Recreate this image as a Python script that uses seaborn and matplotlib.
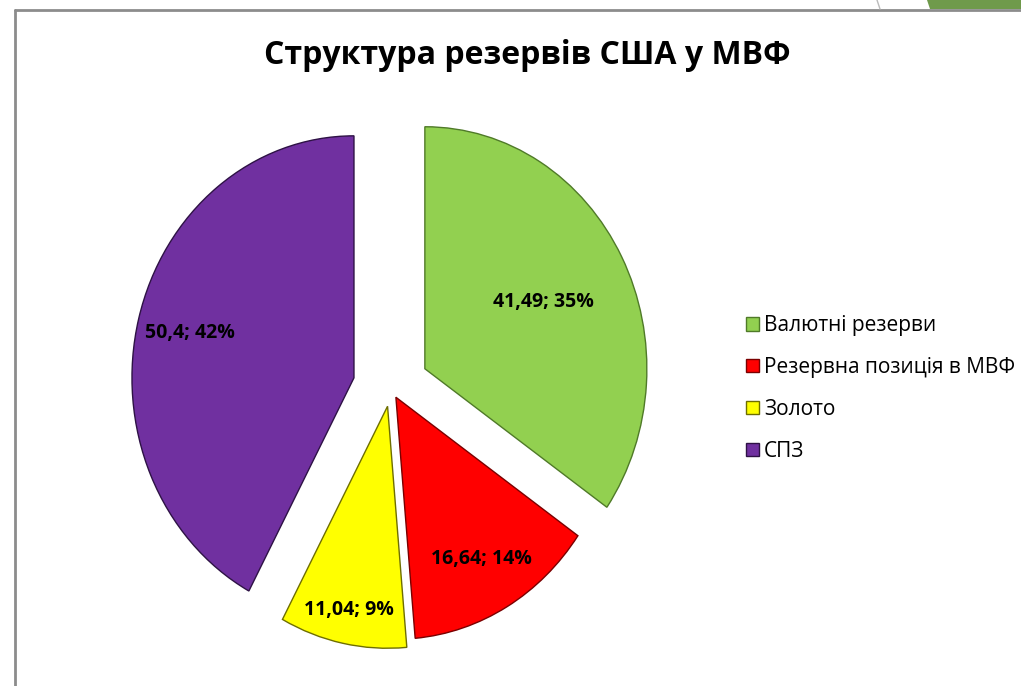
import matplotlib
matplotlib.use("Agg")
import matplotlib.pyplot as plt
import seaborn as sns
import numpy as np
from matplotlib.patches import Polygon
from matplotlib.lines import Line2D

# ---- data ----
categories = ["Валютні резерви", "Резервна позиція в МВФ", "Золото", "СПЗ"]
values = [41.49, 16.64, 11.04, 50.4]
value_labels = ["41,49", "16,64", "11,04", "50,4"]
title = "Структура резервів США у МВФ"

# ---- style ----
colors = ["#92D050", "#FF0000", "#FFFF00", "#7030A0"]
edge_colors = ["#4F7A28", "#7A0000", "#6E6E00", "#2E1245"]
explode = [0.172, 0.044, 0.077, 0.172]
label_dist = [0.6, 0.77, 0.86, 0.76]

sns.set_theme(style="white")
plt.rcParams['font.family'] = ['Open Sans', 'DejaVu Sans']

W, H = 1021, 686
fig = plt.figure(figsize=(W / 100, H / 100), dpi=100)
fig.patch.set_facecolor("white")

ax = fig.add_axes([13.6 / W, (H - 678.4) / H, 754.8 / W, 629.2 / H])
wedges, _ = ax.pie(values, colors=colors, explode=explode, startangle=90,
                   counterclock=False, radius=1,
                   wedgeprops=dict(linewidth=1.0))
for w, ec in zip(wedges, edge_colors):
    w.set_edgecolor(ec)
ax.set_aspect('auto')
ax.set_xlim(-1.7, 1.7)
ax.set_ylim(-1.2, 1.4)
ax.axis('off')

total = sum(values)
for w, v, lab, d in zip(wedges, values, value_labels, label_dist):
    ang = np.deg2rad((w.theta1 + w.theta2) / 2)
    cx, cy = w.center
    ax.text(cx + d * np.cos(ang), cy + d * np.sin(ang),
            f"{lab}; {round(v / total * 100)}%",
            ha='center', va='center', fontsize=14, fontweight='bold',
            color='black')

fig.text(527 / W, 1 - 55 / H, title, ha='center', va='center',
         fontsize=23, fontweight='bold', color='black')

leg = fig.legend(wedges, categories, loc='upper left',
                 bbox_to_anchor=(738 / W, 1 - 307 / H), frameon=False,
                 fontsize=15, handlelength=0.6, handleheight=0.6,
                 handletextpad=0.25, labelspacing=1.0, borderaxespad=0)
for t in leg.get_texts():
    t.set_color('black')

# frame / slide decoration
fig.add_artist(Line2D([15 / W, 15 / W], [0, 1 - 10 / H], color='#8C8C8C',
                      lw=2, transform=fig.transFigure))
fig.add_artist(Line2D([15 / W, 1], [1 - 10 / H, 1 - 10 / H], color='#8C8C8C',
                      lw=2, transform=fig.transFigure))
fig.add_artist(Polygon([(927 / W, 1), (1, 1), (1, 1 - 9 / H), (930 / W, 1 - 9 / H)],
                       closed=True, facecolor='#6F9A4B', edgecolor='none',
                       transform=fig.transFigure))
fig.add_artist(Line2D([877 / W, 880 / W], [1, 1 - 9 / H], color='#BBBBBB',
                      lw=1, transform=fig.transFigure))

fig.savefig("out.png", dpi=100)
